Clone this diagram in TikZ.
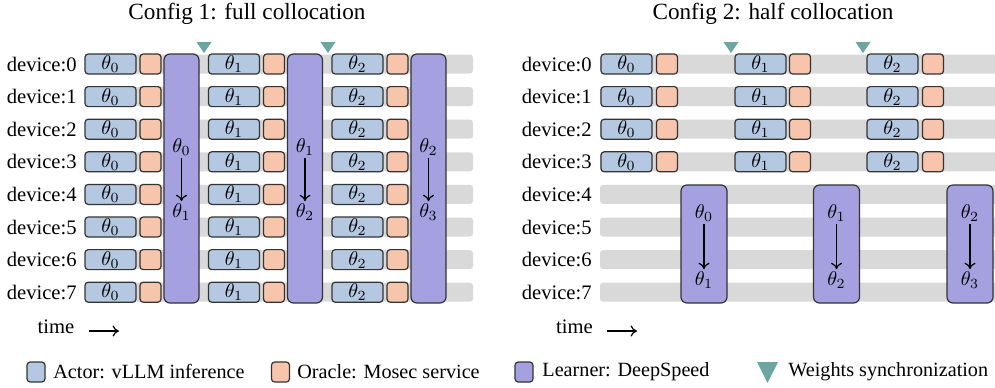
\documentclass[tikz,border=0pt]{standalone}
\usepackage{fontspec}
\setmainfont{Liberation Serif}
\usetikzlibrary{arrows.meta}
\definecolor{actorblue}{HTML}{B4C8E1}
\definecolor{oracleorange}{HTML}{F6C5AC}
\definecolor{learnerpurple}{HTML}{A5A0E0}
\definecolor{syncteal}{HTML}{6BA6A0}
\definecolor{bargray}{HTML}{D9D9D9}
\definecolor{edgegray}{HTML}{333333}
\tikzset{
  box/.style={draw=edgegray, line width=0.6pt, rounded corners=1.6pt, inner sep=0pt},
  actor/.style={box, fill=actorblue, minimum width=25.5pt, minimum height=10pt},
  oracle/.style={box, fill=oracleorange, minimum width=10.5pt, minimum height=10pt},
  learner/.style={box, fill=learnerpurple, rounded corners=3pt},
  rowbar/.style={fill=bargray, rounded corners=1.5pt},
  sync/.style={fill=syncteal},
  devlabel/.style={anchor=east, inner sep=0pt, font=\fontsize{10.3}{12}\selectfont},
  legtext/.style={anchor=west, inner sep=0pt, font=\fontsize{10.1}{12}\selectfont},
  paneltitle/.style={inner sep=0pt, font=\fontsize{11.6}{14}\selectfont},
  theta/.style={inner sep=1pt, font=\fontsize{10.3}{12}\selectfont},
  step arrow/.style={-{To[length=3.2pt,width=5.5pt]}, line width=0.6pt},
}
\begin{document}
\begin{tikzpicture}[x=0.5pt,y=-0.5pt]
\useasboundingbox (0,0) rectangle (995,387);
% titles
\node[paneltitle] (title1) at (247,14) {Config 1: full collocation};
\node[paneltitle] (title2) at (773,14) {Config 2: half collocation};
%%%% config 1
\foreach \i in {0,...,7} { % edit here for the rows
  \pgfmathsetmacro\yy{64+32.6*\i}
  \node[devlabel] (fdev\i) at (77,\yy) {device:\i};
  \fill[rowbar] (85,\yy-9.5) rectangle (473,\yy+9.5);
  \foreach \x/\k in {110.5/0, 234/1, 357.5/2} % edit here for actors
    \node[actor] (fact\k\i) at (\x,\yy) {$\theta_\k$};
  \foreach \x/\k in {150.5/0, 274/1, 397.5/2} % edit here for oracles
    \node[oracle] (forc\k\i) at (\x,\yy) {};
}
\foreach \x/\k/\n in {181.5/0/1, 305/1/2, 428.5/2/3} { % edit here for learners
  \node[learner, minimum width=17.5pt, minimum height=124.5pt] (flrn\k) at (\x,178.5) {};
  \node[theta] (ffrom\k) at (\x,147) {$\theta_\k$};
  \node[theta] (fto\k) at (\x,212) {$\theta_\n$};
  \draw[step arrow] (ffrom\k) -- (fto\k);
}
\foreach \x in {204, 328} % edit here for syncs
  \fill[sync] (\x-7.5,42) -- (\x+7.5,42) -- (\x,53) -- cycle;
\node[inner sep=0pt, font=\fontsize{10.3}{12}\selectfont] (ftime) at (56,327) {time};
\coordinate (ftimeend) at (119,331);
\draw[step arrow] (89,331) -- (ftimeend);
%%%% config 2
\foreach \i in {0,...,7} {
  \pgfmathsetmacro\yy{64+32.6*\i}
  \node[devlabel] (hdev\i) at (592,\yy) {device:\i};
  \fill[rowbar] (600,\yy-9.5) rectangle (1000,\yy+9.5);
}
\foreach \i in {0,...,3} { % only the first half runs actors
  \pgfmathsetmacro\yy{64+32.6*\i}
  \foreach \x/\k in {626.5/0, 760.5/1, 892.5/2}
    \node[actor] (hact\k\i) at (\x,\yy) {$\theta_\k$};
  \foreach \x/\k in {667/0, 800/1, 933/2}
    \node[oracle] (horc\k\i) at (\x,\yy) {};
}
\foreach \x/\k/\n in {704/0/1, 836.5/1/2, 970/2/3} {
  \node[learner, minimum width=23pt, minimum height=59pt] (hlrn\k) at (\x,244) {};
  \node[theta] (hfrom\k) at (\x,213) {$\theta_\k$};
  \node[theta] (hto\k) at (\x,280) {$\theta_\n$};
  \draw[step arrow] (hfrom\k) -- (hto\k);
}
\foreach \x in {731, 863}
  \fill[sync] (\x-7.5,42) -- (\x+7.5,42) -- (\x,53) -- cycle;
\node[inner sep=0pt, font=\fontsize{10.3}{12}\selectfont] (htime) at (574.5,327) {time};
\coordinate (htimeend) at (637,331);
\draw[step arrow] (607,331) -- (htimeend);
%%%% legend
\node[actor, minimum width=9pt] (legact) at (36,372) {};
\node[legtext] (legacttxt) at (53,372) {Actor: vLLM inference};
\node[oracle, minimum width=9pt] (legorc) at (280.5,372) {};
\node[legtext] (legorctxt) at (297,372) {Oracle: Mosec service};
\node[learner, minimum width=9pt, minimum height=10pt, rounded corners=1.6pt] (leglrn) at (524,372) {};
\node[legtext] (leglrntxt) at (542,372) {Learner: DeepSpeed};
\fill[sync] (757,362) -- (778,362) -- (767.5,383) -- cycle;
\node[legtext] (legsynctxt) at (788,372) {Weights synchronization};
\end{tikzpicture}
\end{document}
